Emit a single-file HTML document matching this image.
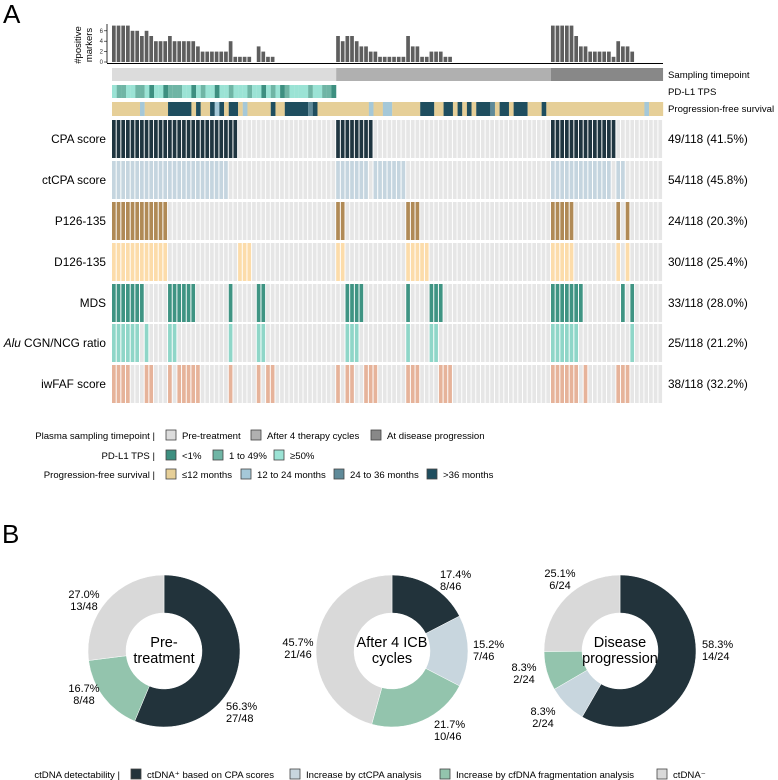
<!DOCTYPE html>
<html><head><meta charset="utf-8"><style>
body{margin:0;background:#fff;}
svg{display:block;font-family:"Liberation Sans",sans-serif;}
</style></head><body>
<svg id="chart" width="778" height="780" viewBox="0 0 778 780"></svg>
<script>
// ---- data ----
const groupSizes=[48,46,24];
const rowNames=["CPA score","ctCPA score","P126-135","D126-135","MDS","Alu CGN/NCG ratio","iwFAF score"];
const rowTotals=["49/118 (41.5%)","54/118 (45.8%)","24/118 (20.3%)","30/118 (25.4%)","33/118 (28.0%)","25/118 (21.2%)","38/118 (32.2%)"];
const cpaPos=[[0,26],[48,55],[94,107]];
const ctcpaPos=[[0,24],[48,54],[56,62],[94,106],[108,109]];
const pPos=[[0,11],[48,49],[63,65],[94,98],[108,108],[110,110]];
const dPos=[[0,11],[27,29],[48,49],[63,67],[94,98],[108,108],[110,110]];
const mdsPos=[[0,6],[12,17],[25,25],[31,32],[50,53],[63,63],[68,70],[94,100],[109,109],[111,111]];
const aluPos=[[0,5],[7,7],[12,13],[25,25],[31,32],[50,52],[63,63],[68,69],[94,99],[111,111]];
const iwfafPos=[[0,3],[7,8],[12,12],[14,18],[25,25],[31,31],[33,34],[48,48],[50,51],[54,56],[63,65],[70,72],[94,99],[101,101],[108,110]];
// PD-L1: 0 <1%, 1 1-49%, 2 >=50% (pre-treatment only)
const pdl1=[2,1,1,2,2,1,1,2,0,2,2,0,1,1,1,2,2,0,2,1,2,2,0,2,2,1,2,2,2,1,2,2,0,2,1,2,0,1,2,2,2,2,1,2,2,1,1,0];
// PFS: 0 <=12, 1 12-24, 2 24-36, 3 >36 (runs: [category, length])
const pfsRuns=[[0,6],[1,1],[0,5],[3,5],[0,1],[3,1],[0,2],[3,1],[1,1],[3,1],[0,1],[3,2],[0,1],[1,1],[0,5],[3,1],[0,2],[3,5],[2,1],[3,1],[0,11],[1,1],[0,2],[1,2],[0,6],[3,3],[0,2],[3,2],[0,1],[3,1],[0,1],[3,1],[0,1],[3,3],[2,1],[0,1],[3,2],[0,1],[3,3],[0,3],[3,1],[0,21],[1,1],[0,3]];
const donutCats=["ctDNA\u207A based on CPA scores","Increase by ctCPA analysis","Increase by cfDNA fragmentation analysis","ctDNA\u207B"];
const donutPre=[56.3,0,16.7,27.0];
const donutAfter=[17.4,15.2,21.7,45.7];
const donutProg=[58.3,8.3,8.3,25.1];
const yTicks=[0,2,4,6];

// ---- helpers ----
const S=document.getElementById('chart');const NS='http://www.w3.org/2000/svg';
function mk(tag,attrs,parent,txt){const e=document.createElementNS(NS,tag);for(const k in attrs)e.setAttribute(k,attrs[k]);if(txt!==undefined)e.textContent=txt;(parent||S).appendChild(e);return e;}
const N=groupSizes.reduce((a,b)=>a+b,0);
const X0=112,CW=4.67;
const xCol=i=>X0+i*CW;
function expand(r){const s=new Array(N).fill(0);r.forEach(([a,b])=>{for(let i=a;i<=b;i++)s[i]=1;});return s;}
const rows=[cpaPos,ctcpaPos,pPos,dPos,mdsPos,aluPos,iwfafPos].map(expand);
const rowColors=["#1f3540","#c5d5df","#b08a56","#fcdcaa","#3f9483","#8fd6c8","#e6b39a"];
const counts=[];for(let i=0;i<N;i++){counts.push(rows.reduce((s,r)=>s+r[i],0));}

let t=mk('text',{x:3,y:23,'font-size':26},S,'A');


// bar chart
const yB=v=>62-v*5.2;
const gBar=mk('g',{});
counts.forEach((c,i)=>{if(c>0){const r=mk('rect',{x:xCol(i),y:yB(c),width:3.7,height:yB(0)-yB(c),fill:'#5e5e5e'},gBar);

}});
mk('line',{x1:107,y1:24,x2:107,y2:63,stroke:'#000','stroke-width':0.8});
mk('line',{x1:107,y1:63.5,x2:663,y2:63.5,stroke:'#000','stroke-width':1});
yTicks.forEach(v=>{mk('text',{x:103,y:yB(v)+2,'font-size':6,'text-anchor':'end',fill:'#333'},S,String(v));mk('line',{x1:104,y1:yB(v),x2:107,y2:yB(v),stroke:'#000','stroke-width':0.6});});
t=mk('text',{transform:'translate(81,45) rotate(-90)','font-size':9.5,'text-anchor':'middle'},S,'#positive');

mk('text',{transform:'translate(92,45) rotate(-90)','font-size':9.5,'text-anchor':'middle'},S,'markers');

const sampColors=["#dcdcdc","#b0b0b0","#888888"];
let start=0;groupSizes.forEach((g,k)=>{const r=mk('rect',{x:xCol(start),y:68,width:g*CW,height:13,fill:sampColors[k]});
start+=g;});
const pdColors=["#3d8f80","#6fb5a5","#9be3d5"];
pdl1.forEach((v,i)=>{const r=mk('rect',{x:xCol(i),y:85,width:CW+0.1,height:13,fill:pdColors[v]});
});
const pfsColors=["#e6cf98","#a5c8d8","#5f8a99","#1f4e5f"];
let ci=0;pfsRuns.forEach(([c,l])=>{const r=mk('rect',{x:xCol(ci),y:102,width:l*CW+0.1,height:14,fill:pfsColors[c]});
ci+=l;});
[["Sampling timepoint",78],["PD-L1 TPS",95],["Progression-free survival",112]].forEach(([s,y])=>mk('text',{x:668,y:y,'font-size':9.6},S,s));

const ROWY=[120,161,202,243,284,324,365];
rows.forEach((r,ri)=>{
  const g=mk('g',{});
  r.forEach((v,i)=>{const c=mk('rect',{x:xCol(i),y:ROWY[ri],width:3.7,height:38,fill:v?rowColors[ri]:'#e6e6e6'},g);
  
  });
  const lab=mk('text',{x:106,y:ROWY[ri]+23,'font-size':11.8,'text-anchor':'end'},S);
  if(ri===5){mk('tspan',{'font-style':'italic'},lab,'Alu');mk('tspan',{},lab,' CGN/NCG ratio');}else lab.textContent=rowNames[ri];
  
  const tt=mk('text',{x:668,y:ROWY[ri]+23,'font-size':11.8},S,rowTotals[ri]);
  
});

function legItem(bx,y,col,txt){mk('rect',{x:bx,y:y-9,width:10,height:10,fill:col,stroke:'#444','stroke-width':0.8});mk('text',{x:bx+16,y:y,'font-size':9.6},S,txt);}
mk('text',{x:155,y:439,'font-size':9.6,'text-anchor':'end'},S,'Plasma sampling timepoint |');
legItem(166,439,sampColors[0],'Pre-treatment');legItem(251,439,sampColors[1],'After 4 therapy cycles');legItem(371,439,sampColors[2],'At disease progression');
mk('text',{x:155,y:459,'font-size':9.6,'text-anchor':'end'},S,'PD-L1 TPS |');
legItem(166,459,pdColors[0],'<1%');legItem(213,459,pdColors[1],'1 to 49%');legItem(274,459,pdColors[2],'\u226550%');
mk('text',{x:155,y:478,'font-size':9.6,'text-anchor':'end'},S,'Progression-free survival |');
legItem(166,478,pfsColors[0],'\u226412 months');legItem(241,478,pfsColors[1],'12 to 24 months');legItem(334,478,pfsColors[2],'24 to 36 months');legItem(427,478,pfsColors[3],'>36 months');

t=mk('text',{x:2,y:543,'font-size':26},S,'B');

const dColors=["#22333b","#c8d6de","#93c4ad","#d9d9d9"];
function donut(cx,cy,vals,name,centerLines){
  const g=mk('g',{});
  const R=76,r=38,tot=vals.reduce((a,b)=>a+b,0);let a0=0;
  vals.forEach((v,k)=>{if(v<=0)return;const a1=a0+v/tot*2*Math.PI;
    const p=(a,rr)=>[cx+rr*Math.sin(a),cy-rr*Math.cos(a)];
    const [x1,y1]=p(a0,R),[x2,y2]=p(a1,R),[x3,y3]=p(a1,r),[x4,y4]=p(a0,r);const lg=(a1-a0)>Math.PI?1:0;
    const s=mk('path',{d:`M${x1},${y1}A${R},${R} 0 ${lg} 1 ${x2},${y2}L${x3},${y3}A${r},${r} 0 ${lg} 0 ${x4},${y4}Z`,fill:dColors[k],stroke:'#fff','stroke-width':0.5},g);
    
    
    a0=a1;});
  centerLines.forEach((l,i)=>mk('text',{x:cx,y:cy-4+i*16,'font-size':14.5,'text-anchor':'middle'},g,l));
}
donut(164,651,donutPre,'donut-pre-treatment',['Pre-','treatment']);
donut(392,651,donutAfter,'donut-after-4-cycles',['After 4 ICB','cycles']);
donut(620,651,donutProg,'donut-progression',['Disease','progression']);
function lab2(x,y,a,b,anchor){mk('text',{x:x,y:y,'font-size':11,'text-anchor':anchor},S,a);mk('text',{x:x,y:y+12,'font-size':11,'text-anchor':anchor},S,b);}
lab2(84,598,'27.0%','13/48','middle');lab2(84,692,'16.7%','8/48','middle');lab2(226,710,'56.3%','27/48','start');
lab2(298,646,'45.7%','21/46','middle');lab2(440,578,'17.4%','8/46','start');lab2(473,648,'15.2%','7/46','start');lab2(434,728,'21.7%','10/46','start');
lab2(560,577,'25.1%','6/24','middle');lab2(702,648,'58.3%','14/24','start');lab2(524,671,'8.3%','2/24','middle');lab2(543,715,'8.3%','2/24','middle');

mk('text',{x:120,y:778,'font-size':9.6,'text-anchor':'end'},S,'ctDNA detectability |');
legItem(131,778,dColors[0],donutCats[0]);legItem(290,778,dColors[1],donutCats[1]);legItem(440,778,dColors[2],donutCats[2]);legItem(657,778,dColors[3],donutCats[3]);
</script>
</body></html>
